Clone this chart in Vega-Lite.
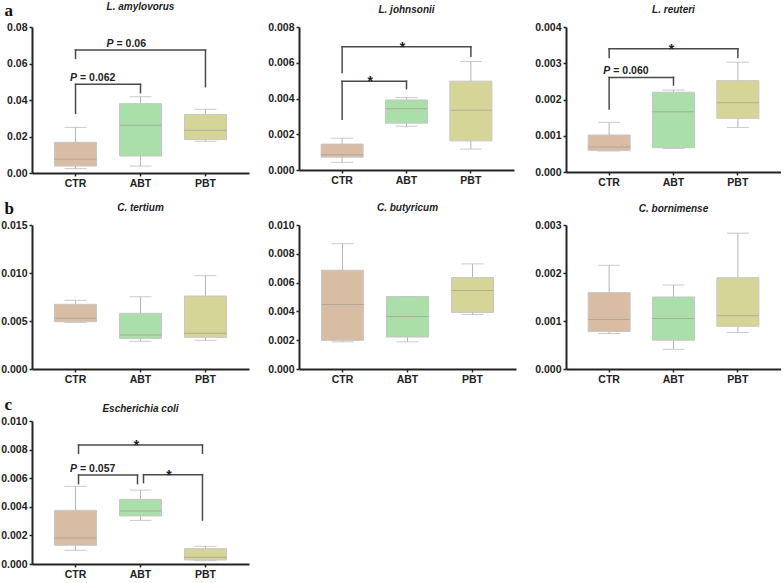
{
"$schema": "https://vega.github.io/schema/vega-lite/v6.json",
"background": "white",
"autosize": {"type": "pad"},
"padding": {"left": 0, "top": 1, "right": 0, "bottom": 0},
"datasets": {
"b1": [
{"group":"CTR","min":0.0024,"q1":0.0038,"median":0.0075,"q3":0.0168,"max":0.025},
{"group":"ABT","min":0.0038,"q1":0.0093,"median":0.0261,"q3":0.038,"max":0.0418},
{"group":"PBT","min":0.0174,"q1":0.0183,"median":0.0234,"q3":0.0321,"max":0.0349}],
"k1": [
{"from":"CTR","to":"ABT","span":1,"y":0.0486,"yFrom":0.0327,"yTo":0.044,"kind":"p","label":"= 0.062"},
{"from":"CTR","to":"PBT","span":2,"y":0.0674,"yFrom":0.0628,"yTo":0.0473,"kind":"p","label":"= 0.06"}],
"b2": [
{"group":"CTR","min":0.00043,"q1":0.00072,"median":0.00085,"q3":0.00145,"max":0.00178},
{"group":"ABT","min":0.00245,"q1":0.00262,"median":0.00342,"q3":0.00392,"max":0.00405},
{"group":"PBT","min":0.00117,"q1":0.00163,"median":0.00334,"q3":0.00497,"max":0.00607}],
"k2": [
{"from":"CTR","to":"ABT","span":1,"y":0.00496,"yFrom":0.00284,"yTo":0.00455,"kind":"star","label":"*"},
{"from":"CTR","to":"PBT","span":2,"y":0.00689,"yFrom":0.00546,"yTo":0.00637,"kind":"star","label":"*"}],
"b3": [
{"group":"CTR","min":0.00058,"q1":0.00059,"median":0.00069,"q3":0.00102,"max":0.00137},
{"group":"ABT","min":0.00065,"q1":0.00067,"median":0.00166,"q3":0.0022,"max":0.00226},
{"group":"PBT","min":0.00123,"q1":0.00148,"median":0.00191,"q3":0.00252,"max":0.00303}],
"k3": [
{"from":"CTR","to":"ABT","span":1,"y":0.00261,"yFrom":0.00174,"yTo":0.0024,"kind":"p","label":"= 0.060"},
{"from":"CTR","to":"PBT","span":2,"y":0.0034,"yFrom":0.00316,"yTo":0.00316,"kind":"star","label":"*"}],
"b4": [
{"group":"CTR","min":0.00486,"q1":0.00493,"median":0.00528,"q3":0.00674,"max":0.00715},
{"group":"ABT","min":0.00288,"q1":0.00319,"median":0.00354,"q3":0.0058,"max":0.00753},
{"group":"PBT","min":0.00299,"q1":0.0033,"median":0.00372,"q3":0.0076,"max":0.00972}],
"b5": [
{"group":"CTR","min":0.00189,"q1":0.00199,"median":0.00448,"q3":0.00686,"max":0.0087},
{"group":"ABT","min":0.00189,"q1":0.00222,"median":0.00365,"q3":0.00503,"max":0.00503},
{"group":"PBT","min":0.00379,"q1":0.00393,"median":0.00545,"q3":0.00635,"max":0.0073}],
"b6": [
{"group":"CTR","min":0.00074,"q1":0.00078,"median":0.00103,"q3":0.00159,"max":0.00216},
{"group":"ABT","min":0.00041,"q1":0.0006,"median":0.00105,"q3":0.0015,"max":0.00175},
{"group":"PBT","min":0.00076,"q1":0.00089,"median":0.00111,"q3":0.0019,"max":0.00283}],
"b7": [
{"group":"CTR","min":0.00096,"q1":0.00131,"median":0.00182,"q3":0.00375,"max":0.00543},
{"group":"ABT","min":0.00305,"q1":0.00336,"median":0.00371,"q3":0.00452,"max":0.00517},
{"group":"PBT","min":0.00023,"q1":0.00028,"median":0.00047,"q3":0.00107,"max":0.00124}],
"k7": [
{"from":"CTR","to":"ABT","span":1,"y":0.00622,"yFrom":0.00562,"yTo":0.00562,"kind":"p","label":"= 0.057"},
{"from":"ABT","to":"PBT","span":1,"y":0.00625,"yFrom":0.00569,"yTo":0.00308,"kind":"star","label":"*"},
{"from":"CTR","to":"PBT","span":2,"y":0.00832,"yFrom":0.00774,"yTo":0.00774,"kind":"star","label":"*"}]
},
"columns": 3,
"spacing": {"row": 52, "column": 50},
"bounds": "flush",
"concat": [
{
"width": 217, "height": 146,
"title": {"text": "L. amylovorus", "dy": 18.5},
"data": {"name": "b1"},
"layer": [
{"mark": {"type": "rule", "color": "#b4b4b4", "strokeWidth": 1},
 "encoding": {"x": {"field": "group", "type": "nominal", "title": null, "scale": {"domain": ["CTR","ABT","PBT"], "paddingInner": 0, "paddingOuter": 0.17}},
  "y": {"field": "min", "type": "quantitative", "title": "a", "scale": {"domain": [0, 0.08], "nice": false}},
  "y2": {"field": "max"}}},
{"mark": {"type": "tick", "color": "#b4b4b4", "size": 22, "thickness": 1}, "encoding": {"x": {"field": "group", "type": "nominal", "title": null}, "y": {"field": "max", "type": "quantitative", "title": "a"}}},
{"mark": {"type": "tick", "color": "#b4b4b4", "size": 22, "thickness": 1}, "encoding": {"x": {"field": "group", "type": "nominal", "title": null}, "y": {"field": "min", "type": "quantitative", "title": "a"}}},
{"mark": {"type": "bar", "width": 42, "stroke": "#c6c6c6", "strokeWidth": 1}, "encoding": {"x": {"field": "group", "type": "nominal", "title": null}, "y": {"field": "q1", "type": "quantitative", "title": "a"}, "y2": {"field": "q3"}, "color": {"field": "group", "type": "nominal", "scale": {"domain": ["CTR","ABT","PBT"], "range": ["#d9bca4","#aadfaa","#d6d598"]}, "legend": null}}},
{"mark": {"type": "tick", "color": "#a39b92", "size": 42, "thickness": 1}, "encoding": {"x": {"field": "group", "type": "nominal", "title": null}, "y": {"field": "median", "type": "quantitative", "title": "a"}}},
{"data": {"name": "k1"}, "mark": {"type": "rule", "color": "#4a4a4a", "strokeWidth": 1.5, "strokeCap": "square"}, "encoding": {"x": {"field": "from", "type": "nominal", "title": null}, "x2": {"field": "to"}, "y": {"field": "y", "type": "quantitative", "title": "a"}}},
{"data": {"name": "k1"}, "mark": {"type": "rule", "color": "#4a4a4a", "strokeWidth": 1.5, "strokeCap": "square"}, "encoding": {"x": {"field": "from", "type": "nominal", "title": null}, "y": {"field": "yFrom", "type": "quantitative", "title": "a"}, "y2": {"field": "y"}}},
{"data": {"name": "k1"}, "mark": {"type": "rule", "color": "#4a4a4a", "strokeWidth": 1.5, "strokeCap": "square"}, "encoding": {"x": {"field": "to", "type": "nominal", "title": null}, "y": {"field": "yTo", "type": "quantitative", "title": "a"}, "y2": {"field": "y"}}},
{"data": {"name": "k1"}, "transform": [{"filter": "datum.kind == 'p' && datum.span == 1"}], "mark": {"type": "text", "text": "P", "fontSize": 10.5, "fontWeight": "bold", "fontStyle": "italic", "align": "right", "baseline": "alphabetic", "dx": -31, "dy": -3, "color": "#222"}, "encoding": {"x": {"field": "from", "type": "nominal", "title": null, "bandPosition": 1}, "y": {"field": "y", "type": "quantitative", "title": "a"}}},
{"data": {"name": "k1"}, "transform": [{"filter": "datum.kind == 'p' && datum.span == 1"}], "mark": {"type": "text", "fontSize": 10.5, "fontWeight": "bold", "align": "left", "baseline": "alphabetic", "dx": -28, "dy": -3, "color": "#222"}, "encoding": {"x": {"field": "from", "type": "nominal", "title": null, "bandPosition": 1}, "y": {"field": "y", "type": "quantitative", "title": "a"}, "text": {"field": "label"}}},
{"data": {"name": "k1"}, "transform": [{"filter": "datum.kind == 'p' && datum.span == 2"}], "mark": {"type": "text", "text": "P", "fontSize": 10.5, "fontWeight": "bold", "fontStyle": "italic", "align": "right", "baseline": "alphabetic", "dx": -27, "dy": -3, "color": "#222"}, "encoding": {"x": {"field": "from", "type": "nominal", "title": null, "bandPosition": 1.5}, "y": {"field": "y", "type": "quantitative", "title": "a"}}},
{"data": {"name": "k1"}, "transform": [{"filter": "datum.kind == 'p' && datum.span == 2"}], "mark": {"type": "text", "fontSize": 10.5, "fontWeight": "bold", "align": "left", "baseline": "alphabetic", "dx": -24, "dy": -3, "color": "#222"}, "encoding": {"x": {"field": "from", "type": "nominal", "title": null, "bandPosition": 1.5}, "y": {"field": "y", "type": "quantitative", "title": "a"}, "text": {"field": "label"}}}
]
},
{
"width": 215, "height": 143,
"title": {"text": "L. johnsonii"},
"data": {"name": "b2"},
"layer": [
{"mark": {"type": "rule", "color": "#b4b4b4", "strokeWidth": 1},
 "encoding": {"x": {"field": "group", "type": "nominal", "title": null, "scale": {"domain": ["CTR","ABT","PBT"], "paddingInner": 0, "paddingOuter": 0.17}},
  "y": {"field": "min", "type": "quantitative", "title": null, "scale": {"domain": [0, 0.008], "nice": false}},
  "y2": {"field": "max"}}},
{"mark": {"type": "tick", "color": "#b4b4b4", "size": 22, "thickness": 1}, "encoding": {"x": {"field": "group", "type": "nominal", "title": null}, "y": {"field": "max", "type": "quantitative", "title": null}}},
{"mark": {"type": "tick", "color": "#b4b4b4", "size": 22, "thickness": 1}, "encoding": {"x": {"field": "group", "type": "nominal", "title": null}, "y": {"field": "min", "type": "quantitative", "title": null}}},
{"mark": {"type": "bar", "width": 42, "stroke": "#c6c6c6", "strokeWidth": 1}, "encoding": {"x": {"field": "group", "type": "nominal", "title": null}, "y": {"field": "q1", "type": "quantitative", "title": null}, "y2": {"field": "q3"}, "color": {"field": "group", "type": "nominal", "scale": {"domain": ["CTR","ABT","PBT"], "range": ["#d9bca4","#aadfaa","#d6d598"]}, "legend": null}}},
{"mark": {"type": "tick", "color": "#a39b92", "size": 42, "thickness": 1}, "encoding": {"x": {"field": "group", "type": "nominal", "title": null}, "y": {"field": "median", "type": "quantitative", "title": null}}},
{"data": {"name": "k2"}, "mark": {"type": "rule", "color": "#4a4a4a", "strokeWidth": 1.5, "strokeCap": "square"}, "encoding": {"x": {"field": "from", "type": "nominal", "title": null}, "x2": {"field": "to"}, "y": {"field": "y", "type": "quantitative", "title": null}}},
{"data": {"name": "k2"}, "mark": {"type": "rule", "color": "#4a4a4a", "strokeWidth": 1.5, "strokeCap": "square"}, "encoding": {"x": {"field": "from", "type": "nominal", "title": null}, "y": {"field": "yFrom", "type": "quantitative", "title": null}, "y2": {"field": "y"}}},
{"data": {"name": "k2"}, "mark": {"type": "rule", "color": "#4a4a4a", "strokeWidth": 1.5, "strokeCap": "square"}, "encoding": {"x": {"field": "to", "type": "nominal", "title": null}, "y": {"field": "yTo", "type": "quantitative", "title": null}, "y2": {"field": "y"}}},
{"data": {"name": "k2"}, "transform": [{"filter": "datum.kind == 'star' && datum.span == 1"}], "mark": {"type": "text", "fontSize": 14, "fontWeight": "bold", "align": "center", "baseline": "alphabetic", "dx": -4, "dy": 5, "color": "#222"}, "encoding": {"x": {"field": "from", "type": "nominal", "title": null, "bandPosition": 1}, "y": {"field": "y", "type": "quantitative", "title": null}, "text": {"field": "label"}}},
{"data": {"name": "k2"}, "transform": [{"filter": "datum.kind == 'star' && datum.span == 2"}], "mark": {"type": "text", "fontSize": 14, "fontWeight": "bold", "align": "center", "baseline": "alphabetic", "dx": -4, "dy": 5, "color": "#222"}, "encoding": {"x": {"field": "from", "type": "nominal", "title": null, "bandPosition": 1.5}, "y": {"field": "y", "type": "quantitative", "title": null}, "text": {"field": "label"}}}
]
},
{
"width": 215, "height": 145,
"title": {"text": "L. reuteri"},
"data": {"name": "b3"},
"layer": [
{"mark": {"type": "rule", "color": "#b4b4b4", "strokeWidth": 1},
 "encoding": {"x": {"field": "group", "type": "nominal", "title": null, "scale": {"domain": ["CTR","ABT","PBT"], "paddingInner": 0, "paddingOuter": 0.17}},
  "y": {"field": "min", "type": "quantitative", "title": null, "scale": {"domain": [0, 0.004], "nice": false}},
  "y2": {"field": "max"}}},
{"mark": {"type": "tick", "color": "#b4b4b4", "size": 22, "thickness": 1}, "encoding": {"x": {"field": "group", "type": "nominal", "title": null}, "y": {"field": "max", "type": "quantitative", "title": null}}},
{"mark": {"type": "tick", "color": "#b4b4b4", "size": 22, "thickness": 1}, "encoding": {"x": {"field": "group", "type": "nominal", "title": null}, "y": {"field": "min", "type": "quantitative", "title": null}}},
{"mark": {"type": "bar", "width": 42, "stroke": "#c6c6c6", "strokeWidth": 1}, "encoding": {"x": {"field": "group", "type": "nominal", "title": null}, "y": {"field": "q1", "type": "quantitative", "title": null}, "y2": {"field": "q3"}, "color": {"field": "group", "type": "nominal", "scale": {"domain": ["CTR","ABT","PBT"], "range": ["#d9bca4","#aadfaa","#d6d598"]}, "legend": null}}},
{"mark": {"type": "tick", "color": "#a39b92", "size": 42, "thickness": 1}, "encoding": {"x": {"field": "group", "type": "nominal", "title": null}, "y": {"field": "median", "type": "quantitative", "title": null}}},
{"data": {"name": "k3"}, "mark": {"type": "rule", "color": "#4a4a4a", "strokeWidth": 1.5, "strokeCap": "square"}, "encoding": {"x": {"field": "from", "type": "nominal", "title": null}, "x2": {"field": "to"}, "y": {"field": "y", "type": "quantitative", "title": null}}},
{"data": {"name": "k3"}, "mark": {"type": "rule", "color": "#4a4a4a", "strokeWidth": 1.5, "strokeCap": "square"}, "encoding": {"x": {"field": "from", "type": "nominal", "title": null}, "y": {"field": "yFrom", "type": "quantitative", "title": null}, "y2": {"field": "y"}}},
{"data": {"name": "k3"}, "mark": {"type": "rule", "color": "#4a4a4a", "strokeWidth": 1.5, "strokeCap": "square"}, "encoding": {"x": {"field": "to", "type": "nominal", "title": null}, "y": {"field": "yTo", "type": "quantitative", "title": null}, "y2": {"field": "y"}}},
{"data": {"name": "k3"}, "transform": [{"filter": "datum.kind == 'p' && datum.span == 1"}], "mark": {"type": "text", "text": "P", "fontSize": 10.5, "fontWeight": "bold", "fontStyle": "italic", "align": "right", "baseline": "alphabetic", "dx": -31, "dy": -3, "color": "#222"}, "encoding": {"x": {"field": "from", "type": "nominal", "title": null, "bandPosition": 1}, "y": {"field": "y", "type": "quantitative", "title": null}}},
{"data": {"name": "k3"}, "transform": [{"filter": "datum.kind == 'p' && datum.span == 1"}], "mark": {"type": "text", "fontSize": 10.5, "fontWeight": "bold", "align": "left", "baseline": "alphabetic", "dx": -28, "dy": -3, "color": "#222"}, "encoding": {"x": {"field": "from", "type": "nominal", "title": null, "bandPosition": 1}, "y": {"field": "y", "type": "quantitative", "title": null}, "text": {"field": "label"}}},
{"data": {"name": "k3"}, "transform": [{"filter": "datum.kind == 'star' && datum.span == 2"}], "mark": {"type": "text", "fontSize": 14, "fontWeight": "bold", "align": "center", "baseline": "alphabetic", "dx": -2, "dy": 5, "color": "#222"}, "encoding": {"x": {"field": "from", "type": "nominal", "title": null, "bandPosition": 1.5}, "y": {"field": "y", "type": "quantitative", "title": null}, "text": {"field": "label"}}}
]
},
{
"width": 217, "height": 144,
"title": {"text": "C. tertium", "dy": 21.5},
"data": {"name": "b4"},
"layer": [
{"mark": {"type": "rule", "color": "#b4b4b4", "strokeWidth": 1},
 "encoding": {"x": {"field": "group", "type": "nominal", "title": null, "scale": {"domain": ["CTR","ABT","PBT"], "paddingInner": 0, "paddingOuter": 0.17}},
  "y": {"field": "min", "type": "quantitative", "title": "b", "scale": {"domain": [0, 0.015], "nice": false}},
  "y2": {"field": "max"}}},
{"mark": {"type": "tick", "color": "#b4b4b4", "size": 22, "thickness": 1}, "encoding": {"x": {"field": "group", "type": "nominal", "title": null}, "y": {"field": "max", "type": "quantitative", "title": "b"}}},
{"mark": {"type": "tick", "color": "#b4b4b4", "size": 22, "thickness": 1}, "encoding": {"x": {"field": "group", "type": "nominal", "title": null}, "y": {"field": "min", "type": "quantitative", "title": "b"}}},
{"mark": {"type": "bar", "width": 42, "stroke": "#c6c6c6", "strokeWidth": 1}, "encoding": {"x": {"field": "group", "type": "nominal", "title": null}, "y": {"field": "q1", "type": "quantitative", "title": "b"}, "y2": {"field": "q3"}, "color": {"field": "group", "type": "nominal", "scale": {"domain": ["CTR","ABT","PBT"], "range": ["#d9bca4","#aadfaa","#d6d598"]}, "legend": null}}},
{"mark": {"type": "tick", "color": "#a39b92", "size": 42, "thickness": 1}, "encoding": {"x": {"field": "group", "type": "nominal", "title": null}, "y": {"field": "median", "type": "quantitative", "title": "b"}}}
]
},
{
"width": 217, "height": 144,
"title": {"text": "C. butyricum"},
"data": {"name": "b5"},
"layer": [
{"mark": {"type": "rule", "color": "#b4b4b4", "strokeWidth": 1},
 "encoding": {"x": {"field": "group", "type": "nominal", "title": null, "scale": {"domain": ["CTR","ABT","PBT"], "paddingInner": 0, "paddingOuter": 0.17}},
  "y": {"field": "min", "type": "quantitative", "title": null, "scale": {"domain": [0, 0.01], "nice": false}},
  "y2": {"field": "max"}}},
{"mark": {"type": "tick", "color": "#b4b4b4", "size": 22, "thickness": 1}, "encoding": {"x": {"field": "group", "type": "nominal", "title": null}, "y": {"field": "max", "type": "quantitative", "title": null}}},
{"mark": {"type": "tick", "color": "#b4b4b4", "size": 22, "thickness": 1}, "encoding": {"x": {"field": "group", "type": "nominal", "title": null}, "y": {"field": "min", "type": "quantitative", "title": null}}},
{"mark": {"type": "bar", "width": 42, "stroke": "#c6c6c6", "strokeWidth": 1}, "encoding": {"x": {"field": "group", "type": "nominal", "title": null}, "y": {"field": "q1", "type": "quantitative", "title": null}, "y2": {"field": "q3"}, "color": {"field": "group", "type": "nominal", "scale": {"domain": ["CTR","ABT","PBT"], "range": ["#d9bca4","#aadfaa","#d6d598"]}, "legend": null}}},
{"mark": {"type": "tick", "color": "#a39b92", "size": 42, "thickness": 1}, "encoding": {"x": {"field": "group", "type": "nominal", "title": null}, "y": {"field": "median", "type": "quantitative", "title": null}}}
]
},
{
"width": 215, "height": 144,
"title": {"text": "C. bornimense", "dy": 1.5},
"data": {"name": "b6"},
"layer": [
{"mark": {"type": "rule", "color": "#b4b4b4", "strokeWidth": 1},
 "encoding": {"x": {"field": "group", "type": "nominal", "title": null, "scale": {"domain": ["CTR","ABT","PBT"], "paddingInner": 0, "paddingOuter": 0.17}},
  "y": {"field": "min", "type": "quantitative", "title": null, "scale": {"domain": [0, 0.003], "nice": false}},
  "y2": {"field": "max"}}},
{"mark": {"type": "tick", "color": "#b4b4b4", "size": 22, "thickness": 1}, "encoding": {"x": {"field": "group", "type": "nominal", "title": null}, "y": {"field": "max", "type": "quantitative", "title": null}}},
{"mark": {"type": "tick", "color": "#b4b4b4", "size": 22, "thickness": 1}, "encoding": {"x": {"field": "group", "type": "nominal", "title": null}, "y": {"field": "min", "type": "quantitative", "title": null}}},
{"mark": {"type": "bar", "width": 42, "stroke": "#c6c6c6", "strokeWidth": 1}, "encoding": {"x": {"field": "group", "type": "nominal", "title": null}, "y": {"field": "q1", "type": "quantitative", "title": null}, "y2": {"field": "q3"}, "color": {"field": "group", "type": "nominal", "scale": {"domain": ["CTR","ABT","PBT"], "range": ["#d9bca4","#aadfaa","#d6d598"]}, "legend": null}}},
{"mark": {"type": "tick", "color": "#a39b92", "size": 42, "thickness": 1}, "encoding": {"x": {"field": "group", "type": "nominal", "title": null}, "y": {"field": "median", "type": "quantitative", "title": null}}}
]
},
{
"width": 217, "height": 143,
"title": {"text": "Escherichia coli", "dy": 26.5},
"data": {"name": "b7"},
"layer": [
{"mark": {"type": "rule", "color": "#b4b4b4", "strokeWidth": 1},
 "encoding": {"x": {"field": "group", "type": "nominal", "title": null, "scale": {"domain": ["CTR","ABT","PBT"], "paddingInner": 0, "paddingOuter": 0.17}},
  "y": {"field": "min", "type": "quantitative", "title": "c", "scale": {"domain": [0, 0.01], "nice": false}},
  "y2": {"field": "max"}}},
{"mark": {"type": "tick", "color": "#b4b4b4", "size": 22, "thickness": 1}, "encoding": {"x": {"field": "group", "type": "nominal", "title": null}, "y": {"field": "max", "type": "quantitative", "title": "c"}}},
{"mark": {"type": "tick", "color": "#b4b4b4", "size": 22, "thickness": 1}, "encoding": {"x": {"field": "group", "type": "nominal", "title": null}, "y": {"field": "min", "type": "quantitative", "title": "c"}}},
{"mark": {"type": "bar", "width": 42, "stroke": "#c6c6c6", "strokeWidth": 1}, "encoding": {"x": {"field": "group", "type": "nominal", "title": null}, "y": {"field": "q1", "type": "quantitative", "title": "c"}, "y2": {"field": "q3"}, "color": {"field": "group", "type": "nominal", "scale": {"domain": ["CTR","ABT","PBT"], "range": ["#d9bca4","#aadfaa","#d6d598"]}, "legend": null}}},
{"mark": {"type": "tick", "color": "#a39b92", "size": 42, "thickness": 1}, "encoding": {"x": {"field": "group", "type": "nominal", "title": null}, "y": {"field": "median", "type": "quantitative", "title": "c"}}},
{"data": {"name": "k7"}, "mark": {"type": "rule", "color": "#4a4a4a", "strokeWidth": 1.5, "strokeCap": "square", "xOffset": 3, "x2Offset": -3}, "encoding": {"x": {"field": "from", "type": "nominal", "title": null}, "x2": {"field": "to"}, "y": {"field": "y", "type": "quantitative", "title": "c"}}},
{"data": {"name": "k7"}, "mark": {"type": "rule", "color": "#4a4a4a", "strokeWidth": 1.5, "strokeCap": "square", "xOffset": 3}, "encoding": {"x": {"field": "from", "type": "nominal", "title": null}, "y": {"field": "yFrom", "type": "quantitative", "title": "c"}, "y2": {"field": "y"}}},
{"data": {"name": "k7"}, "mark": {"type": "rule", "color": "#4a4a4a", "strokeWidth": 1.5, "strokeCap": "square", "xOffset": -3}, "encoding": {"x": {"field": "to", "type": "nominal", "title": null}, "y": {"field": "yTo", "type": "quantitative", "title": "c"}, "y2": {"field": "y"}}},
{"data": {"name": "k7"}, "transform": [{"filter": "datum.kind == 'p' && datum.span == 1"}], "mark": {"type": "text", "text": "P", "fontSize": 10.5, "fontWeight": "bold", "fontStyle": "italic", "align": "right", "baseline": "alphabetic", "dx": -31, "dy": -3, "color": "#222"}, "encoding": {"x": {"field": "from", "type": "nominal", "title": null, "bandPosition": 1}, "y": {"field": "y", "type": "quantitative", "title": "c"}}},
{"data": {"name": "k7"}, "transform": [{"filter": "datum.kind == 'p' && datum.span == 1"}], "mark": {"type": "text", "fontSize": 10.5, "fontWeight": "bold", "align": "left", "baseline": "alphabetic", "dx": -28, "dy": -3, "color": "#222"}, "encoding": {"x": {"field": "from", "type": "nominal", "title": null, "bandPosition": 1}, "y": {"field": "y", "type": "quantitative", "title": "c"}, "text": {"field": "label"}}},
{"data": {"name": "k7"}, "transform": [{"filter": "datum.kind == 'star' && datum.span == 1"}], "mark": {"type": "text", "fontSize": 14, "fontWeight": "bold", "align": "center", "baseline": "alphabetic", "dx": -4, "dy": 5, "color": "#222"}, "encoding": {"x": {"field": "from", "type": "nominal", "title": null, "bandPosition": 1}, "y": {"field": "y", "type": "quantitative", "title": "c"}, "text": {"field": "label"}}},
{"data": {"name": "k7"}, "transform": [{"filter": "datum.kind == 'star' && datum.span == 2"}], "mark": {"type": "text", "fontSize": 14, "fontWeight": "bold", "align": "center", "baseline": "alphabetic", "dx": -4, "dy": 5, "color": "#222"}, "encoding": {"x": {"field": "from", "type": "nominal", "title": null, "bandPosition": 1.5}, "y": {"field": "y", "type": "quantitative", "title": "c"}, "text": {"field": "label"}}}
]
}
],
"config": {
"view": {"stroke": null},
"font": "Liberation Sans",
"text": {"font": "Liberation Sans"},
"axis": {"domainColor": "#222", "domainWidth": 2, "tickColor": "#222", "tickWidth": 1.5, "tickSize": 3, "labelFont": "Liberation Sans", "labelFontSize": 10.5, "labelFontWeight": "bold", "labelColor": "#222", "labelPadding": 2, "grid": false, "titleColor": "#111"},
"axisX": {"labelAngle": 0},
"axisY": {"titleAngle": 0, "titleX": -28, "titleY": -12, "titleAlign": "left", "titleBaseline": "alphabetic", "titleFont": "Liberation Serif", "titleFontSize": 17, "titleFontWeight": "bold"},
"title": {"font": "Liberation Sans", "fontSize": 10, "fontStyle": "italic", "fontWeight": "bold", "color": "#222", "anchor": "middle", "frame": "group", "offset": 7.5, "baseline": "alphabetic"}
}
}
